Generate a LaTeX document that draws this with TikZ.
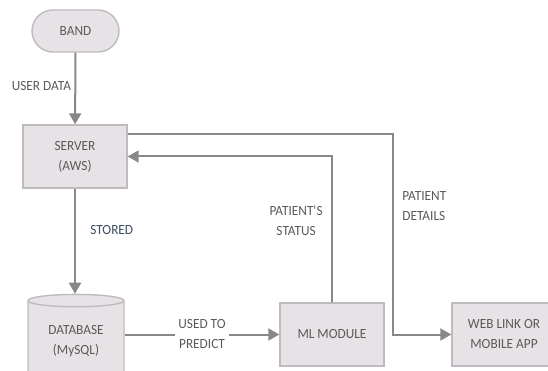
\documentclass[tikz,border=0pt]{standalone}
\usepackage{fontspec}
\setmainfont{Carlito}[FakeStretch=0.95]
\usetikzlibrary{arrows.meta,shapes.geometric}

\definecolor{boxfill}{HTML}{E6E2E6}
\definecolor{boxline}{HTML}{BFBABF}
\definecolor{wire}{HTML}{888888}
\definecolor{labeltext}{HTML}{5A5A5A}
\definecolor{storedtext}{HTML}{3E4C60}

\tikzset{
  block/.style={draw=boxline,fill=boxfill,line width=1.4pt,minimum width=104pt,
    minimum height=63pt,align=center,text=labeltext},
  wire/.style={draw=wire,line width=2pt,-{Triangle[length=11pt,width=12pt]}},
  lbl/.style={text=labeltext,align=center}
}

\begin{document}
\begin{tikzpicture}[x=1pt,y=-1pt,font=\fontsize{14}{20}\selectfont]
    \useasboundingbox (0,0) rectangle (548,371);
    \node[block,rounded corners=21pt,minimum width=87pt,minimum height=42pt] (band) at (75.5,31) {BAND};
    \node[block] (srv) at (75,156.5) {SERVER\\(AWS)};
    \node[block,shape=cylinder,shape border rotate=90,aspect=0.2,
      minimum width=96pt,minimum height=84pt] (db) at (76,341) {DATABASE\\(MySQL)};
    \node[block] (ml)  at (332,334.5) {ML MODULE};
    \node[block] (web) at (504,334.5) {WEB LINK OR\\MOBILE APP};
    \coordinate (turn) at (393,134);
    \draw[wire] (band) -- node[lbl,left,pos=0.47] {USER DATA} (srv);
    \draw[wire] (srv.south) -- node[lbl,right,xshift=11pt,pos=0.39,text=storedtext] {STORED} (srv.south |- db.north);
    \draw[wire] (db.east |- ml) -- node[lbl,fill=white] {USED TO\\PREDICT} (ml);
    \draw[wire] (ml) |- node[lbl,left,xshift=-5pt,pos=0.28] {PATIENT\textquotesingle S\\STATUS} (srv);
    \draw[wire] ([yshift=22.5pt]srv.east) -| (turn) |- node[lbl,right,align=left,xshift=5pt,pos=0.18] {PATIENT\\DETAILS} (web);
\end{tikzpicture}
\end{document}
